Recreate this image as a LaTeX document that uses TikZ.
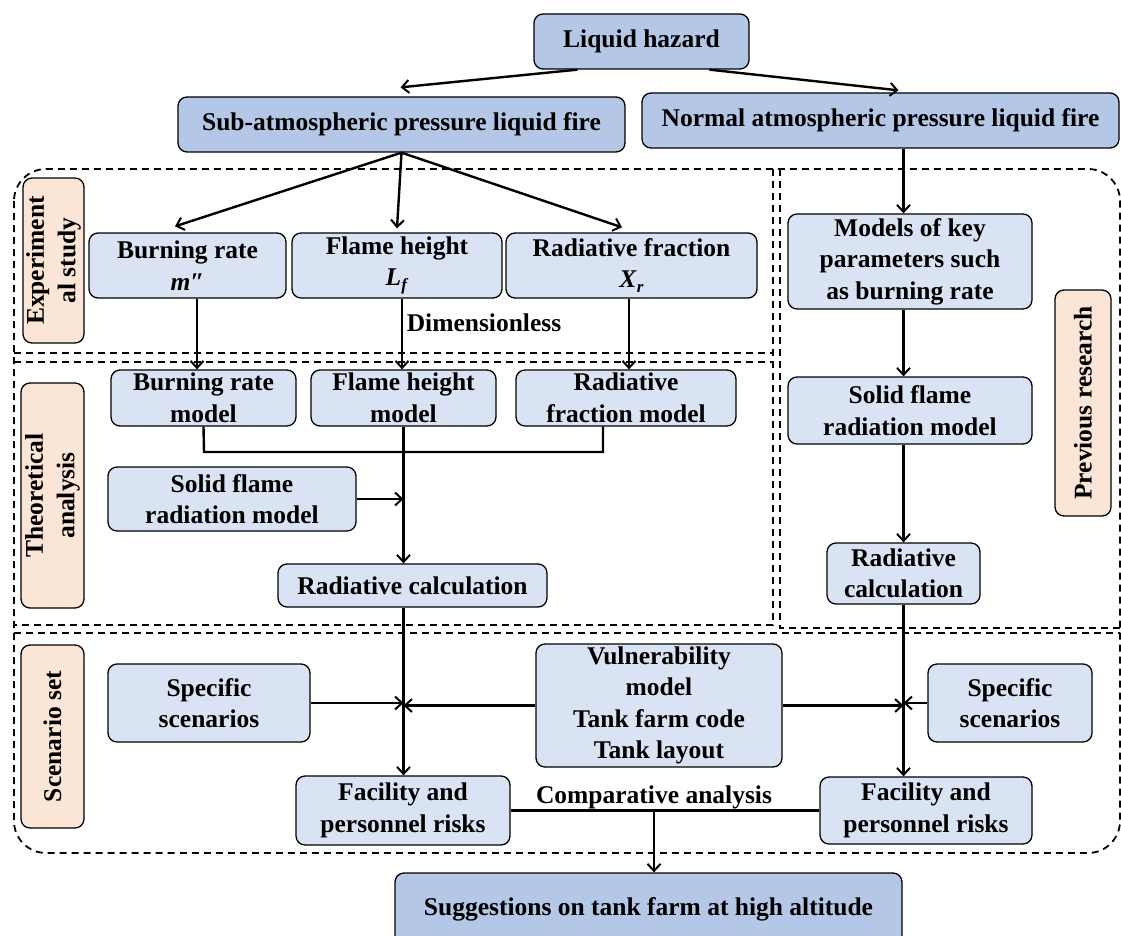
\documentclass[tikz,border=0pt]{standalone}
\usepackage{fontspec}
\setmainfont{Liberation Serif}
\usetikzlibrary{arrows.meta,calc}
\definecolor{dblue}{HTML}{B4C7E7}
\definecolor{lblue}{HTML}{DAE3F3}
\definecolor{peach}{HTML}{FBE5D6}
\newcommand{\sbs}[1]{\raisebox{-5pt}{\fontsize{17}{17}\selectfont\textit{#1}}}
\tikzset{
	box/.style={draw, line width=1.3pt, rounded corners=9pt, fill=lblue, align=center, inner sep=0pt},
	topbox/.style={box, fill=dblue},
	tagbox/.style={box, fill=peach, rotate=90},
	arr/.style={line width=2.4pt, -{Straight Barb[length=7pt,width=13pt,line width=2pt]}},
	ln/.style={line width=2.4pt},
	region/.style={line width=1.8pt, dash pattern=on 7pt off 5pt},
}

\begin{document}
\begin{tikzpicture}[x=1pt,y=-1pt,font=\fontsize{25.5}{31.5}\selectfont\bfseries]
			%%%%% START %%%%%
			\useasboundingbox (0,0) rectangle (1121,936);
			
			\draw[region, rounded corners=32pt] (14,169) rectangle (1120,853);
			\draw[region] (14,353) -- (773,353);
			\draw[region] (14,362) -- (773,362);
			\draw[region] (773,169) -- (773,625) -- (14,625);
			\draw[region] (780,169) -- (780,628) -- (1120,628);
			\draw[region] (14,633) -- (1120,633);
			
			\node[topbox, minimum width=215, minimum height=55] (haz) at (641.5,41.5) {Liquid hazard};
			\node[topbox, minimum width=447, minimum height=55] (sub) at (401.5,124.5) {Sub-atmospheric pressure liquid fire};
			\node[topbox, minimum width=477, minimum height=55] (nor) at (880.5,120.5) {Normal atmospheric pressure liquid fire};
			
			\node[tagbox, minimum width=165, minimum height=61] (exp) at (53.5,260.5) {Experiment\\al study};
			\node[tagbox, minimum width=225, minimum height=63] (theo) at (52.5,495.5) {Theoretical\\analysis};
			\node[tagbox, minimum width=183, minimum height=63] (scen) at (52.5,736.5) {Scenario set};
			\node[tagbox, minimum width=226, minimum height=56] (prev) at (1083,403) {Previous research};
			
			\node[box, minimum width=197, minimum height=65] (br) at (187.5,265.5) {Burning rate\\\textit{m}\char"2033};
			\node[box, minimum width=210, minimum height=65] (fh) at (397,265.5) {Flame height\\\textit{L}\sbs{f}};
			\node[box, minimum width=251, minimum height=65] (rf) at (631.5,265.5) {Radiative fraction\\\textit{X}\sbs{r}};
			\node (dim) at (484,323) {Dimensionless};
			
			\node[box, minimum width=185, minimum height=56] (brm) at (203.5,398) {Burning rate\\model};
			\node[box, minimum width=185, minimum height=56] (fhm) at (403.5,398) {Flame height\\model};
			\node[box, minimum width=220, minimum height=56] (rfm) at (626,398) {Radiative\\fraction model};
			\node[box, minimum width=248, minimum height=64] (sfl) at (232,499) {Solid flame\\radiation model};
			\node[box, minimum width=269, minimum height=43] (rcl) at (412.5,585.5) {Radiative calculation};
			
			\node[box, minimum width=244, minimum height=95] (mkp) at (910,261.5) {Models of key\\parameters such\\as burning rate};
			\node[box, minimum width=244, minimum height=67] (sfr) at (910,410.5) {Solid flame\\radiation model};
			\node[box, minimum width=153, minimum height=61] (rcr) at (903.5,573.5) {Radiative\\calculation};
			
			\node[box, minimum width=202, minimum height=78] (ssl) at (209,703) {Specific\\scenarios};
			\node[box, minimum width=246, minimum height=123] (vul) at (659,705.5) {Vulnerability\\model\\Tank farm code\\Tank layout};
			\node[box, minimum width=164, minimum height=78] (ssr) at (1010,703) {Specific\\scenarios};
			\node[box, minimum width=214, minimum height=69] (fpl) at (403,810.5) {Facility and\\personnel risks};
			\node[box, minimum width=212, minimum height=67] (fpr) at (926,810.5) {Facility and\\personnel risks};
			\node (cmp) at (654,797) {Comparative analysis};
			\node[topbox, minimum width=507, minimum height=72] (sug) at (648.5,909) {Suggestions on tank farm at high altitude};
			
			\draw[arr] ($(haz.south)+(-64,0)$) -- ($(sub.north)+(-1,-9)$);
			\draw[arr] ($(haz.south)+(68,0)$) -- ($(nor.north)+(18,-2)$);
			\draw[arr] (sub.south) -- ($(br.north)+(-12.5,-6)$);
			\draw[arr] (sub.south) -- ($(fh.north)+(0,-4)$);
			\draw[arr] (sub.south) -- ($(rf.north)+(-9.5,-5)$);
			
			\draw[arr] (br.south -| 197,0) -- (brm.north -| 197,0);
			\draw[arr] (fh.south -| 402,0) -- (fhm.north -| 402,0);
			\draw[arr] (rf.south -| 629,0) -- (rfm.north -| 629,0);
			
			\coordinate (busL) at (204,452);
			\coordinate (busR) at (603,452);
			\draw[ln] (brm.south) -- (busL) -- (busR) -- (busR |- rfm.south);
			\draw[arr] (fhm.south) -- (fhm.south |- rcl.north);
			\draw[arr] (sfl.east) -- (sfl.east -| fhm.south);
			\draw[arr] (fhm.south |- rcl.south) -- (fhm.south |- fpl.north);
			\draw[arr] (ssl.east) -- (ssl.east -| fhm.south);
			\draw[arr] (vul.west) -- (vul.west -| fhm.south);
			
			\draw[arr] (nor.south -| rcr.north) -- (mkp.north -| rcr.north);
			\draw[arr] (mkp.south -| rcr.north) -- (sfr.north -| rcr.north);
			\draw[arr] (sfr.south -| rcr.north) -- (rcr.north);
			\draw[arr] (rcr.south) -- (rcr.south |- fpr.north);
			\draw[arr] (vul.east) -- (vul.east -| rcr.south);
			\draw[arr] (ssr.west) -- (ssr.west -| rcr.south);
			
			\draw[ln] (fpl.east) -- (fpr.west);
			\coordinate (mid) at (654,810.5);
			\draw[arr] (mid) -- (mid |- sug.north);
			
			%%%%% END %%%%%
\end{tikzpicture}
\end{document}
